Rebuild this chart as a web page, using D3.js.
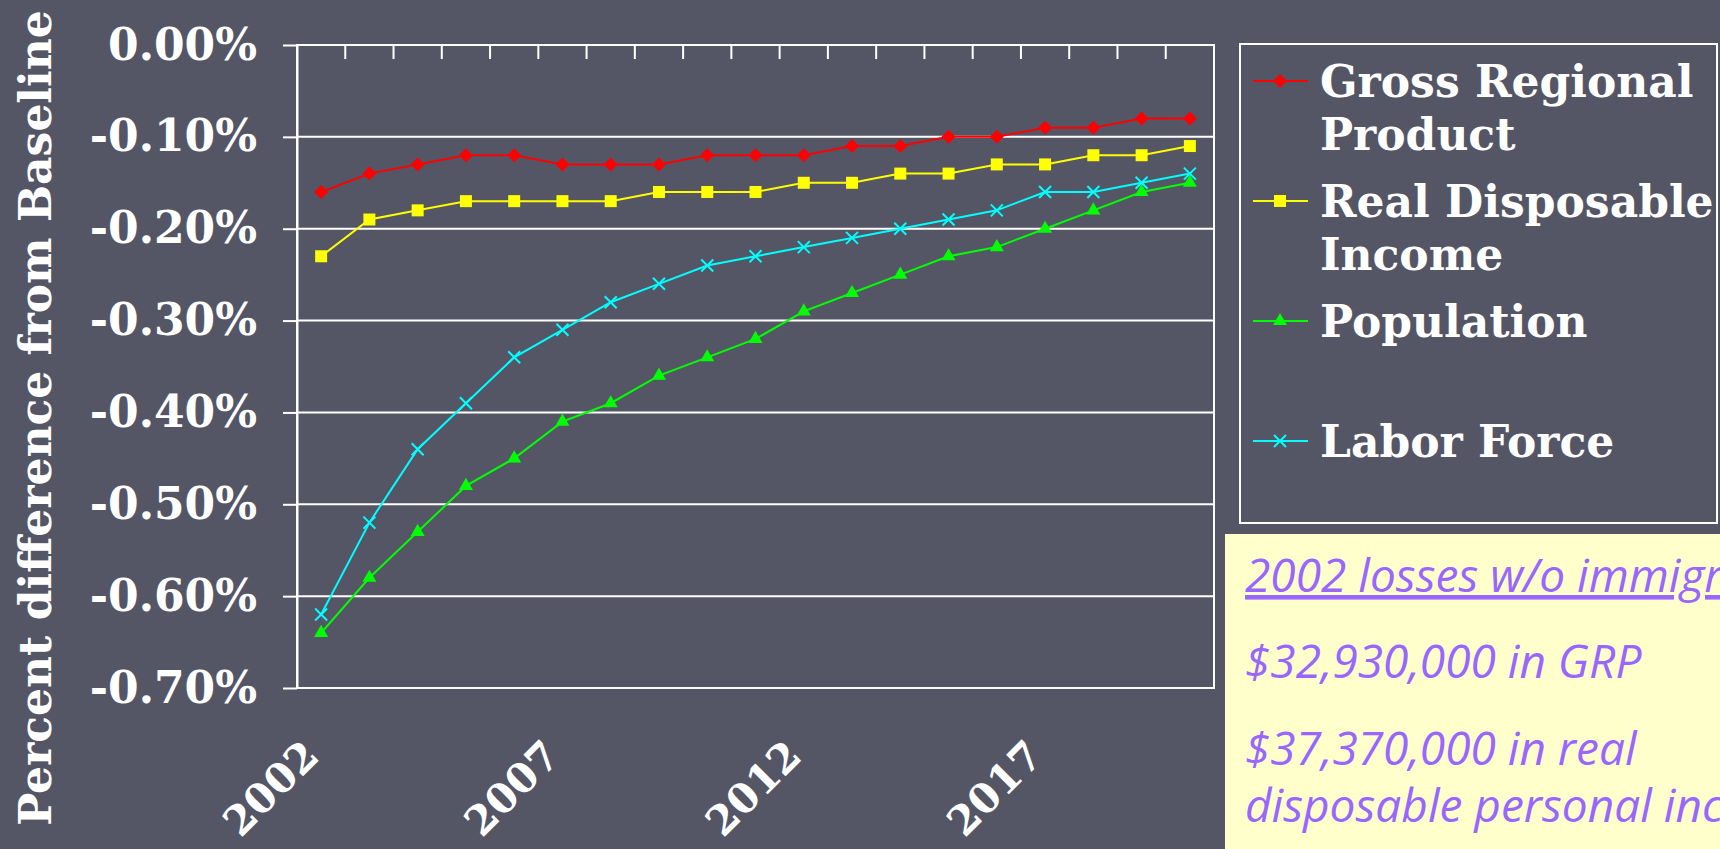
<!DOCTYPE html>
<html>
<head>
<meta charset="utf-8">
<script src="https://cdn.jsdelivr.net/npm/d3@7/dist/d3.min.js"></script>
<style>
  html, body { margin: 0; padding: 0; background: #545666; overflow: hidden; }
  .serif { font-family: "DejaVu Serif", serif; font-weight: bold; fill: #ffffff; }
</style>
</head>
<body>
<div id="chart"></div>
<script>
// categories (years)
var years = ['2002', '2003', '2004', '2005', '2006', '2007', '2008', '2009', '2010', '2011',
             '2012', '2013', '2014', '2015', '2016', '2017', '2018', '2019', '2020'];
var xLabels = ['2002', '2007', '2012', '2017'];
var yTicks = [0, -0.1, -0.2, -0.3, -0.4, -0.5, -0.6, -0.7];

// percent difference from baseline
var grp        = [-0.16, -0.14, -0.13, -0.12, -0.12, -0.13, -0.13, -0.13, -0.12, -0.12,
                  -0.12, -0.11, -0.11, -0.10, -0.10, -0.09, -0.09, -0.08, -0.08];
var rdi        = [-0.23, -0.19, -0.18, -0.17, -0.17, -0.17, -0.17, -0.16, -0.16, -0.16,
                  -0.15, -0.15, -0.14, -0.14, -0.13, -0.13, -0.12, -0.12, -0.11];
var population = [-0.64, -0.58, -0.53, -0.48, -0.45, -0.41, -0.39, -0.36, -0.34, -0.32,
                  -0.29, -0.27, -0.25, -0.23, -0.22, -0.20, -0.18, -0.16, -0.15];
var laborForce = [-0.62, -0.52, -0.44, -0.39, -0.34, -0.31, -0.28, -0.26, -0.24, -0.23,
                  -0.22, -0.21, -0.20, -0.19, -0.18, -0.16, -0.16, -0.15, -0.14];

var legendLabels = [['Gross Regional', 'Product'], ['Real Disposable', 'Income'], ['Population'], ['Labor Force']];
var yTitle = 'Percent difference from Baseline';
var noteLines = ['2002 losses w/o immigrants', '$32,930,000 in GRP', '$37,370,000 in real', 'disposable personal income'];

// canvas
var width = 1720;
var height = 849;
var plot = {left: 297, right: 1214, top: 45, bottom: 688};

var series = [
    {name: 'grp', values: grp, color: '#ff0000', marker: 'diamond'},
    {name: 'rdi', values: rdi, color: '#ffff00', marker: 'square'},
    {name: 'pop', values: population, color: '#00ff00', marker: 'triangle'},
    {name: 'lab', values: laborForce, color: '#00ffff', marker: 'x'}
];

var svg = d3.select('#chart')
    .append('svg')
    .attr('width', width)
    .attr('height', height);

svg.append('rect')
    .attr('width', width)
    .attr('height', height)
    .attr('fill', '#545666');

// scales
var xScale = d3.scaleBand()
    .domain(years)
    .range([plot.left, plot.right]);
var yScale = d3.scaleLinear()
    .domain([-0.7, 0])
    .range([plot.bottom, plot.top]);

function cx(i) { return xScale(years[i]) + xScale.bandwidth() / 2; }

// gridlines
svg.append('g')
    .attr('class', 'grid')
    .selectAll('line')
    .data(yTicks)
    .enter()
    .append('line')
    .attr('x1', plot.left)
    .attr('x2', plot.right)
    .attr('y1', function(d) { return yScale(d); })
    .attr('y2', function(d) { return yScale(d); })
    .attr('stroke', '#ffffff')
    .attr('stroke-width', 2);

// plot frame
svg.append('rect')
    .attr('x', plot.left)
    .attr('y', plot.top)
    .attr('width', plot.right - plot.left)
    .attr('height', plot.bottom - plot.top)
    .attr('fill', 'none')
    .attr('stroke', '#ffffff')
    .attr('stroke-width', 2);

// y axis
var yAxis = d3.axisLeft(yScale)
    .tickValues(yTicks)
    .tickSizeInner(14)
    .tickSizeOuter(0)
    .tickPadding(26)
    .tickFormat(function(d) { return d.toFixed(2) + '%'; });

var gy = svg.append('g')
    .attr('transform', 'translate(' + plot.left + ',0)')
    .call(yAxis);
gy.select('.domain').attr('stroke', '#ffffff').attr('stroke-width', 2);
gy.selectAll('.tick line').attr('stroke', '#ffffff').attr('stroke-width', 2);
gy.selectAll('.tick text')
    .attr('class', 'serif')
    .style('font-size', '44px')
    .attr('fill', '#ffffff');

// category ticks on the top axis (between categories)
svg.append('g')
    .selectAll('line')
    .data(years.slice(1))
    .enter()
    .append('line')
    .attr('x1', function(d) { return xScale(d); })
    .attr('x2', function(d) { return xScale(d); })
    .attr('y1', plot.top)
    .attr('y2', plot.top + 14)
    .attr('stroke', '#ffffff')
    .attr('stroke-width', 2);

// x labels
svg.append('g')
    .selectAll('text')
    .data(xLabels)
    .enter()
    .append('text')
    .attr('class', 'serif')
    .style('font-size', '41px')
    .attr('text-anchor', 'end')
    .attr('transform', function(d) {
        var x = xScale(d) + xScale.bandwidth() / 2;
        return 'translate(' + x + ',' + (plot.bottom + 70) + ') rotate(-45)';
    })
    .text(function(d) { return d; });

// y title
svg.append('text')
    .attr('class', 'serif')
    .style('font-size', '44px')
    .attr('text-anchor', 'middle')
    .attr('transform', 'translate(51,' + 418 + ') rotate(-90)')
    .text(yTitle);

// markers
function drawMarker(g, type, color) {
    if (type === 'diamond') {
        g.append('path').attr('d', 'M0,-7L7,0L0,7L-7,0Z').attr('fill', color);
    } else if (type === 'square') {
        g.append('rect').attr('x', -6).attr('y', -6).attr('width', 12).attr('height', 12).attr('fill', color);
    } else if (type === 'triangle') {
        g.append('path').attr('d', d3.symbol().type(d3.symbolTriangle).size(85)()).attr('fill', color);
    } else {
        g.append('path').attr('d', 'M-6,-6L6,6M-6,6L6,-6').attr('stroke', color).attr('stroke-width', 2).attr('fill', 'none');
    }
}

var line = d3.line()
    .x(function(d, i) { return cx(i); })
    .y(function(d) { return yScale(d); });

series.forEach(function(s) {
    svg.append('path')
        .datum(s.values)
        .attr('d', line)
        .attr('fill', 'none')
        .attr('stroke', s.color)
        .attr('stroke-width', 2);
    svg.append('g')
        .selectAll('g')
        .data(s.values)
        .enter()
        .append('g')
        .attr('transform', function(d, i) { return 'translate(' + cx(i) + ',' + yScale(d) + ')'; })
        .each(function() { drawMarker(d3.select(this), s.marker, s.color); });
});

// legend
var legend = svg.append('g');
legend.append('rect')
    .attr('x', 1240)
    .attr('y', 44)
    .attr('width', 477)
    .attr('height', 479)
    .attr('fill', 'none')
    .attr('stroke', '#ffffff')
    .attr('stroke-width', 2);

var rowY = [81, 201, 321, 441];
series.forEach(function(s, i) {
    var row = legend.append('g').attr('transform', 'translate(0,' + rowY[i] + ')');
    row.append('line')
        .attr('x1', 1253).attr('x2', 1308)
        .attr('y1', 0).attr('y2', 0)
        .attr('stroke', s.color)
        .attr('stroke-width', 2);
    drawMarker(row.append('g').attr('transform', 'translate(1280,0)'), s.marker, s.color);
    row.append('text')
        .attr('class', 'serif')
        .style('font-size', '44px')
        .attr('x', 1320)
        .attr('y', 16)
        .selectAll('tspan')
        .data(legendLabels[i])
        .enter()
        .append('tspan')
        .attr('x', 1320)
        .attr('dy', function(d, j) { return j === 0 ? 0 : 53; })
        .text(function(d) { return d; });
});

// note box
svg.append('rect')
    .attr('x', 1225)
    .attr('y', 534)
    .attr('width', 500)
    .attr('height', 320)
    .attr('fill', '#ffffcc');

var noteY = [592, 678, 765, 822];
svg.append('g')
    .selectAll('text')
    .data(noteLines)
    .enter()
    .append('text')
    .attr('x', 1245)
    .attr('y', function(d, i) { return noteY[i]; })
    .style('font-family', '"Open Sans", sans-serif')
    .style('font-style', 'italic')
    .style('font-size', '46px')
    .style('text-decoration', function(d, i) { return i === 0 ? 'underline' : 'none'; })
    .attr('fill', '#9966ff')
    .text(function(d) { return d; });
</script>
</body>
</html>
